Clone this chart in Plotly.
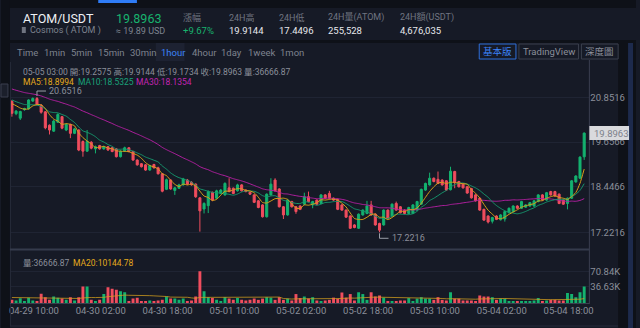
import plotly.graph_objects as go
import pandas as pd

W, H = 640, 328

# ---------------- data ----------------
start_time = "2021-04-29 10:00"
n_candles = 138
times = pd.date_range(start_time, periods=n_candles, freq="h")

opens = [20.75, 20.42, 20.30, 20.53, 20.55, 20.76, 20.83, 20.64, 20.47, 20.11,
         19.95, 20.19, 20.34, 19.98, 20.13, 19.89, 19.98, 19.67, 19.41, 19.65,
         19.47, 19.56, 19.47, 19.53, 19.50, 19.47, 19.26, 19.41, 19.50, 19.40,
         19.17, 19.07, 19.04, 18.90, 19.05, 18.96, 18.80, 18.38, 18.63, 18.35,
         18.41, 18.50, 18.63, 18.57, 18.52, 18.15, 17.85, 17.94, 18.30, 18.14,
         18.27, 18.23, 18.42, 18.41, 18.34, 18.50, 18.36, 18.30, 18.23, 18.07,
         17.96, 17.64, 18.23, 18.63, 18.39, 17.91, 17.69, 18.05, 17.91, 17.93,
         17.98, 18.18, 17.96, 18.09, 18.00, 18.23, 18.27, 18.14, 18.11, 17.96,
         17.82, 17.66, 17.42, 17.33, 17.69, 17.73, 17.96, 17.71, 17.46, 17.42,
         17.82, 17.66, 18.00, 17.91, 17.82, 17.73, 17.73, 17.82, 17.98, 18.36,
         18.50, 18.68, 18.65, 18.63, 18.61, 18.37, 18.86, 18.59, 18.52, 18.45,
         18.40, 18.23, 18.14, 17.84, 17.66, 17.52, 17.66, 17.56, 17.58, 17.75,
         17.78, 17.93, 17.87, 17.90, 17.93, 17.93, 18.05, 18.23, 18.09, 18.32,
         18.32, 18.25, 18.09, 18.00, 18.14, 18.58, 18.68, 19.2575]
highs = [20.79, 20.52, 20.50, 20.58, 20.81, 20.86, 20.87, 20.68, 20.49, 20.13,
         20.25, 20.43, 20.36, 20.16, 20.15, 20.04, 20.00, 19.70, 19.98, 19.68,
         19.56, 19.58, 19.56, 19.55, 19.52, 19.49, 19.43, 19.53, 19.52, 19.42,
         19.19, 19.09, 19.06, 19.04, 19.07, 18.99, 18.82, 18.67, 18.65, 18.45,
         18.53, 18.69, 18.66, 18.60, 18.54, 18.17, 18.03, 18.35, 18.32, 18.37,
         18.39, 18.57, 18.68, 18.43, 18.53, 18.52, 18.38, 18.32, 18.25, 18.09,
         17.98, 18.27, 18.68, 18.68, 18.41, 17.93, 18.11, 18.07, 17.93, 17.95,
         18.29, 18.32, 18.07, 18.11, 18.25, 18.25, 18.34, 18.16, 18.13, 17.98,
         17.84, 17.68, 17.44, 17.73, 17.84, 18.07, 18.07, 17.73, 17.48, 17.84,
         17.84, 18.00, 18.05, 17.93, 17.84, 17.91, 17.98, 18.07, 18.40, 18.56,
         18.83, 18.70, 18.86, 18.65, 18.63, 18.99, 18.88, 18.61, 18.54, 18.47,
         18.42, 18.25, 18.16, 17.86, 17.68, 17.64, 17.68, 17.71, 17.80, 17.89,
         17.95, 17.95, 18.07, 17.98, 18.04, 18.09, 18.25, 18.25, 18.31, 18.34,
         18.34, 18.27, 18.11, 18.16, 18.63, 18.76, 19.27, 19.9144]
lows = [20.34, 20.38, 20.25, 20.50, 20.53, 20.74, 20.64, 20.42, 20.00, 19.86,
        19.93, 20.17, 20.00, 19.95, 19.76, 19.87, 19.41, 19.26, 19.39, 19.46,
        19.35, 19.45, 19.45, 19.42, 19.38, 19.24, 19.24, 19.39, 19.38, 19.15,
        19.02, 18.97, 18.88, 18.88, 18.94, 18.78, 18.30, 18.36, 18.37, 18.23,
        18.39, 18.48, 18.50, 18.48, 18.15, 17.24, 17.73, 17.74, 18.06, 18.12,
        18.25, 18.21, 18.30, 18.25, 18.32, 18.32, 18.30, 18.23, 18.01, 17.87,
        17.62, 17.62, 18.21, 18.32, 17.89, 17.58, 17.67, 17.89, 17.72, 17.82,
        17.96, 18.03, 17.87, 17.96, 17.98, 18.12, 18.12, 18.07, 17.82, 17.80,
        17.61, 17.31, 17.33, 17.31, 17.67, 17.71, 17.67, 17.40, 17.2216, 17.40,
        17.58, 17.64, 17.80, 17.73, 17.71, 17.71, 17.71, 17.80, 17.96, 18.34,
        18.48, 18.57, 18.52, 18.48, 18.34, 18.35, 18.41, 18.43, 18.40, 18.26,
        18.13, 18.05, 17.80, 17.53, 17.46, 17.46, 17.55, 17.54, 17.51, 17.73,
        17.76, 17.85, 17.85, 17.88, 17.91, 17.91, 18.03, 18.07, 18.07, 18.21,
        18.18, 17.98, 17.96, 17.84, 18.12, 18.56, 18.66, 19.1734]
closes = [20.43, 20.49, 20.48, 20.56, 20.79, 20.83, 20.67, 20.46, 20.04, 19.98,
          20.22, 20.40, 20.03, 20.13, 19.89, 20.01, 19.44, 19.41, 19.67, 19.49,
          19.53, 19.47, 19.53, 19.44, 19.40, 19.26, 19.41, 19.50, 19.40, 19.17,
          19.04, 18.99, 18.90, 19.02, 18.96, 18.80, 18.33, 18.64, 18.39, 18.42,
          18.50, 18.66, 18.52, 18.50, 18.18, 17.80, 18.00, 18.32, 18.09, 18.34,
          18.36, 18.54, 18.32, 18.27, 18.50, 18.34, 18.32, 18.25, 18.03, 17.89,
          17.64, 18.25, 18.52, 18.34, 17.91, 17.69, 18.09, 17.91, 17.78, 17.84,
          18.18, 18.05, 18.05, 17.98, 18.23, 18.14, 18.14, 18.09, 17.84, 17.82,
          17.63, 17.33, 17.35, 17.71, 17.82, 17.93, 17.69, 17.42, 17.28, 17.82,
          17.60, 17.98, 17.82, 17.75, 17.73, 17.89, 17.96, 18.05, 18.38, 18.54,
          18.68, 18.59, 18.54, 18.50, 18.36, 18.87, 18.56, 18.45, 18.42, 18.28,
          18.15, 18.07, 17.82, 17.55, 17.50, 17.62, 17.57, 17.69, 17.78, 17.87,
          17.93, 17.87, 18.05, 17.96, 18.02, 18.07, 18.23, 18.09, 18.29, 18.23,
          18.20, 18.00, 17.98, 18.14, 18.61, 18.74, 19.25, 19.8963]
volumes = [7200, 5600, 10800, 4500, 12000, 5600, 3500, 20500, 13000, 7000,
           14500, 12000, 9800, 7000, 13000, 5600, 13000, 36900, 36900, 7000,
           4500, 7000, 20000, 35000, 31600, 29500, 26500, 24000, 4500, 9800,
           12000, 3000, 3500, 5600, 3500, 5600, 7000, 14500, 9800, 9800,
           7000, 9800, 4500, 5600, 14500, 70840, 26500, 13000, 11000, 7000,
           4500, 13000, 9800, 7000, 11000, 7000, 5600, 7000, 9800, 7000,
           9800, 13000, 12000, 7000, 13000, 7000, 9800, 5600, 20000, 11000,
           14500, 9800, 13000, 5600, 4500, 5600, 7000, 12000, 9800, 23500,
           12000, 20000, 5600, 24000, 20000, 7000, 24000, 14500, 16800, 12000,
           4500, 4500, 4500, 5600, 5600, 11000, 3000, 9800, 13000, 9800,
           9800, 7000, 13000, 7000, 5600, 24000, 9800, 9800, 5600, 5600,
           5600, 4500, 16800, 14500, 14500, 13000, 7000, 9800, 9800, 3000,
           3000, 3000, 3500, 3500, 3500, 5600, 11000, 4500, 5600, 7000,
           7000, 5600, 5600, 22400, 20000, 13000, 24000, 36666.87]

# history before the first visible candle (implied by the MA lines at the left edge)
prior_closes = [21.52, 21.44, 21.47, 21.38, 21.41, 21.33, 21.36, 21.27, 21.31, 21.22,
                21.25, 21.17, 21.20, 21.11, 21.14, 21.05, 21.09, 20.99, 21.03, 20.94,
                20.97, 20.88, 20.92, 20.83, 20.86, 20.77, 20.80, 20.72, 20.74]
prior_volumes = [9800, 14500, 11000, 16800, 12000, 9800, 13000, 7000, 20000, 11000,
                 14500, 9800, 12000, 16800, 13000, 9800, 11000, 14500, 12000]

price_ticks = [17.2216, 18.4466, 19.6566, 20.8516]
price_tick_text = ["17.2216", "18.4466", "19.6566", "20.8516"]
vol_ticks = [36630, 70840]
vol_tick_text = ["36.63K", "70.84K"]

high_label = "20.6516"
low_label = "17.2216"
last_price_text = "19.8963"

info_line = "05-05 03:00 開:19.2575 高:19.9144 低:19.1734 收:19.8963 量:36666.87"
ma_legend = [("MA5:18.8994", "#e3a91c"), ("MA10:18.5325", "#19a27a"), ("MA30:18.1354", "#c224b3")]
vol_legend = [("量:36666.87", "#8b8f9a"), ("MA20:10144.78", "#e3a91c")]

header_items = [("漲幅", "+9.67%"), ("24H高", "19.9144"), ("24H低", "17.4496"),
                ("24H量(ATOM)", "255,528"), ("24H額(USDT)", "4,676,035")]
intervals = ["Time", "1min", "5min", "15min", "30min", "1hour", "4hour", "1day", "1week", "1mon"]
buttons = ["基本版", "TradingView", "深度圖"]

# ---------------- derived (moving averages) ----------------
def moving_average(history, values, n):
    full = list(history) + list(values)
    off = len(history)
    out = []
    for i in range(len(values)):
        seg = full[off + i - n + 1: off + i + 1]
        out.append(sum(seg) / len(seg))
    return out

ma5 = moving_average(prior_closes, closes, 5)
ma10 = moving_average(prior_closes, closes, 10)
ma30 = moving_average(prior_closes, closes, 30)
vma20 = moving_average(prior_volumes, volumes, 20)

UP = "#14b26f"
DOWN = "#f04d5e"
BG = "#161a26"
DARK = "#0e1118"
GRID = "#1f2433"
TXT = "#8b8f9a"
FONT = "Roboto, 'Noto Sans CJK TC', 'Noto Sans', sans-serif"

bar_colors = [UP if c >= o else DOWN for o, c in zip(opens, closes)]

# ---------------- figure ----------------
def px(x):
    return x / W

def py(y):
    return 1 - y / H

fig = go.Figure()
fig.add_trace(go.Candlestick(
    x=times, open=opens, high=highs, low=lows, close=closes,
    increasing=dict(line=dict(color=UP, width=1), fillcolor=UP),
    decreasing=dict(line=dict(color=DOWN, width=1), fillcolor=DOWN),
    whiskerwidth=0, xaxis="x", yaxis="y", hoverinfo="skip", showlegend=False))
for vals, col in [(ma30, "#b0209f"), (ma10, "#17946c"), (ma5, "#d9a01a")]:
    fig.add_trace(go.Scatter(x=times, y=vals, mode="lines",
                             line=dict(color=col, width=1, shape="spline", smoothing=0.6),
                             xaxis="x", yaxis="y", hoverinfo="skip", showlegend=False))
fig.add_trace(go.Bar(x=times, y=volumes, marker=dict(color=bar_colors, line=dict(width=0)),
                     width=0.7 * 3600 * 1000, xaxis="x2", yaxis="y2",
                     hoverinfo="skip", showlegend=False))
fig.add_trace(go.Scatter(x=times, y=vma20, mode="lines",
                         line=dict(color="rgba(214,160,30,0.75)", width=1),
                         xaxis="x2", yaxis="y2", hoverinfo="skip", showlegend=False))

hour = pd.Timedelta(hours=1)
x_range = [times[0] - 0.475 * hour, times[0] + 138.24 * hour]
x_dom = [px(9), px(593)]

fig.update_layout(
    width=W, height=H, margin=dict(l=0, r=0, t=0, b=0),
    paper_bgcolor=BG, plot_bgcolor=BG,
    font=dict(family=FONT, color=TXT, size=9),
    boxgap=0.3,
    xaxis=dict(domain=x_dom, anchor="y", range=x_range, type="date",
               showticklabels=False, showgrid=False, zeroline=False,
               rangeslider=dict(visible=False), fixedrange=True),
    xaxis2=dict(domain=x_dom, anchor="y2", matches="x", type="date",
                range=x_range, showgrid=False, zeroline=False,
                tick0=times[0], dtick=16 * 3600 * 1000, tickformat="%m-%d %H:%M",
                ticks="", ticklabelshift=22, tickfont=dict(size=9.5, color=TXT)),
    yaxis=dict(domain=[py(248), py(62)], anchor="x", side="right",
               range=[16.798, 21.8144], tickvals=price_ticks, ticktext=price_tick_text,
               showgrid=True, gridcolor=GRID, gridwidth=1, zeroline=False,
               ticks="", tickfont=dict(size=9.5, color=TXT)),
    yaxis2=dict(domain=[py(303), py(251)], anchor="x2", side="right",
                range=[0, 116300], tickvals=vol_ticks, ticktext=vol_tick_text,
                showgrid=True, gridcolor=GRID, gridwidth=1, zeroline=False,
                ticks="", tickfont=dict(size=9.5, color=TXT)),
)

shapes = []
def rect(x0, y0, x1, y1, fill=None, line=None, lw=1, layer="below"):
    shapes.append(dict(type="rect", xref="paper", yref="paper",
                       x0=px(x0), x1=px(x1), y0=py(y1), y1=py(y0),
                       fillcolor=fill if fill else "rgba(0,0,0,0)",
                       line=dict(color=line if line else "rgba(0,0,0,0)", width=lw if line else 0),
                       layer=layer))

def hline(x0, x1, y, color, w=1, layer="above"):
    shapes.append(dict(type="line", xref="paper", yref="paper", x0=px(x0), x1=px(x1),
                       y0=py(y), y1=py(y), line=dict(color=color, width=w), layer=layer))

def vline(x, y0, y1, color, w=1, layer="above"):
    shapes.append(dict(type="line", xref="paper", yref="paper", x0=px(x), x1=px(x),
                       y0=py(y0), y1=py(y1), line=dict(color=color, width=w), layer=layer))

# page frame
rect(0, 0, 640, 8, fill=DARK)
rect(98, 0, 137, 3, fill="#2f7cf6")
rect(0, 0, 9, 328, fill=DARK)
rect(0, 40, 640, 43, fill=DARK)
rect(622, 43, 640, 328, fill=DARK)
rect(632, 43, 637, 328, fill="#1d2a4c")
rect(0, 84, 7, 97, fill="#1b1f2b", line="#3a3f4f")
rect(156, 43, 185, 61, fill="#1d2232")
rect(21, 27, 25, 33, fill="#6f7480", layer="above")
# buttons
btn_box = [(482, 519), (522, 582), (585, 622)]
for (b0, b1), name in zip(btn_box, buttons):
    rect(b0, 44, b1, 59, line="#2f6fd8" if name == "基本版" else "#3a3f4d", lw=1, layer="above")
    fig.add_annotation(x=px((b0 + b1) / 2), y=py(51.5), xref="paper", yref="paper",
                       text=name, showarrow=False, xanchor="center", yanchor="middle",
                       font=dict(size=9.5, color="#3b82f6" if name == "基本版" else TXT))
# chart borders
vline(9.5, 62, 326, "#262b3a")
vline(593, 60, 304, "#3a3f50")
hline(9, 593, 249.5, "#353b4c", w=2)
hline(9, 593, 303.5, "#3a3f50")
hline(9, 622, 326, "#262b3a")
# current price box
rect(593, 126, 633, 140, fill="#d9dadd", layer="above")
fig.add_annotation(x=px(596), y=py(133), xref="paper", yref="paper", text=last_price_text,
                   showarrow=False, xanchor="left", yanchor="middle",
                   font=dict(size=9.5, color="#7d818b"))

# high / low markers anchored to the extreme candles
i_hi = max(range(n_candles), key=lambda i: highs[i])
i_lo = min(range(n_candles), key=lambda i: lows[i])
for idx, val, sgn, label in [(i_hi, highs[i_hi], 1, high_label), (i_lo, lows[i_lo], -1, low_label)]:
    shapes.append(dict(type="path", xref="x", yref="y", xsizemode="pixel", ysizemode="pixel",
                       xanchor=times[idx], yanchor=val,
                       path=f"M0,{sgn*1} L0,{sgn*6} L9,{sgn*6}",
                       line=dict(color="#9a9ea8", width=1), layer="above"))
    fig.add_annotation(x=times[idx], y=val, xref="x", yref="y", text=label, showarrow=False,
                       xanchor="left", yanchor="middle", xshift=10, yshift=sgn * 6,
                       font=dict(size=9, color="#8b8f9a"))

fig.update_layout(shapes=shapes)

# header texts
def text(x, y, s, size=9, color=TXT, anchor="left"):
    fig.add_annotation(x=px(x), y=py(y), xref="paper", yref="paper",
                       text=s, showarrow=False,
                       xanchor=anchor, yanchor="middle", font=dict(size=size, color=color))

text(20, 18, "ATOM/USDT", size=12.5, color="#eef0f4")
text(27, 31, "Cosmos ( ATOM )", size=9, color="#7e838f")
text(114, 18, "19.8963", size=12.5, color="#18b36e")
text(114, 31, "≈ 19.89 USD", size=9, color="#7e838f")
hx = [181, 228, 278, 328, 400]
for x, (lab, val) in zip(hx, header_items):
    text(x, 17, lab, size=9, color="#6f7480")
    text(x, 31, val, size=9.5, color="#18b36e" if lab == "漲幅" else "#e6e8ec")

ix = [14, 41, 69, 96, 128, 159, 190, 220, 247, 279]
for x, lab in zip(ix, intervals):
    text(x, 52, lab, size=9.5, color="#3b82f6" if lab == "1hour" else "#7e838f")

text(20, 71.5, info_line, size=8.5, color="#8b8f9a")
for x, (s, col) in zip([20, 76, 134], ma_legend):
    text(x, 82.5, s, size=8.5, color=col)
text(20, 263, vol_legend[0][0], size=8.5, color=vol_legend[0][1])
text(71, 263, vol_legend[1][0], size=8.5, color=vol_legend[1][1])

fig.write_html("out.html")
